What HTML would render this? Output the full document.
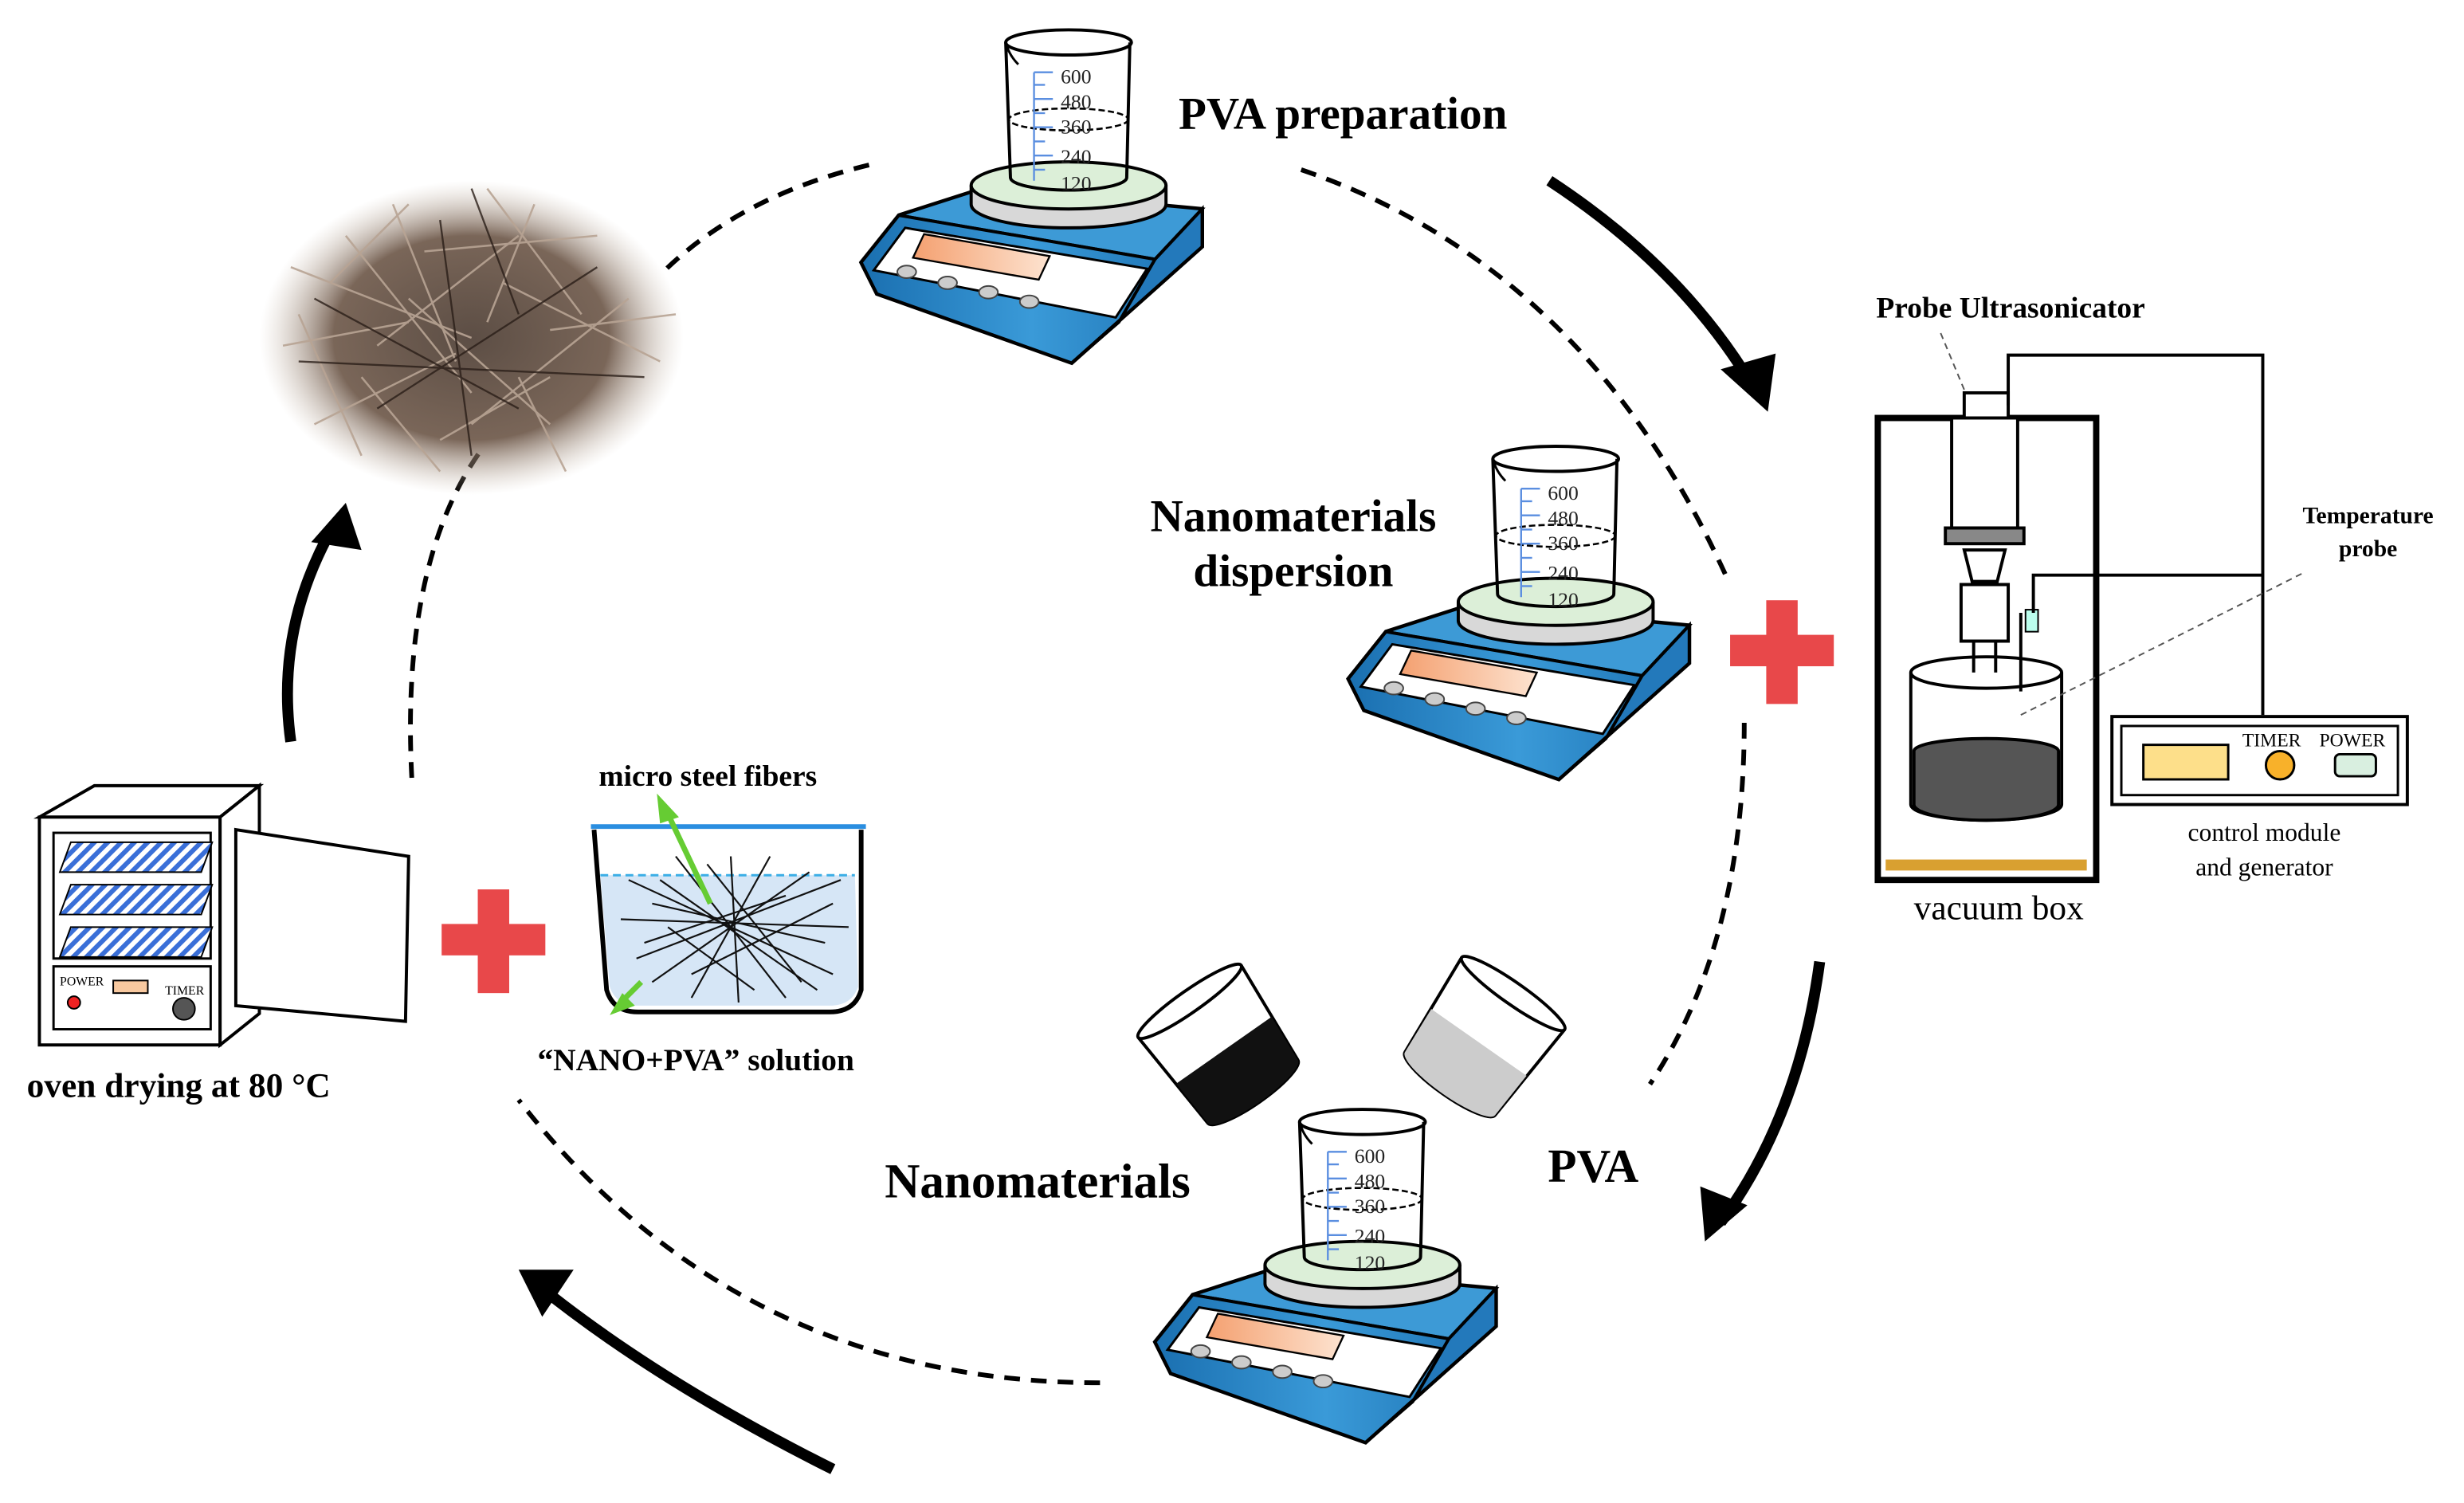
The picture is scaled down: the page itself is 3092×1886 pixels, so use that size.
<!DOCTYPE html>
<html><head><meta charset="utf-8"><style>html,body{margin:0;padding:0;background:#fff}svg{display:block}</style></head><body>
<svg width="3092" height="1886" viewBox="0 0 1568 956.5" xmlns="http://www.w3.org/2000/svg" font-family="Liberation Serif, serif">
<defs>
<linearGradient id="bl" x1="0" y1="0" x2="1" y2="0"><stop offset="0" stop-color="#1a6fb0"/><stop offset=".5" stop-color="#3a9ad8"/><stop offset="1" stop-color="#1a6fb0"/></linearGradient>
<linearGradient id="or" x1="0" y1="0" x2="1" y2="0"><stop offset="0" stop-color="#f4a070"/><stop offset="1" stop-color="#fde3d0"/></linearGradient>
<radialGradient id="fib" cx=".5" cy=".5" r=".5"><stop offset="0" stop-color="#4a3a30"/><stop offset=".65" stop-color="#6b5546"/><stop offset="1" stop-color="#c8b8a8" stop-opacity="0"/></radialGradient>
<pattern id="hatch" width="6" height="6" patternUnits="userSpaceOnUse" patternTransform="rotate(45)"><rect width="6" height="6" fill="#fff"/><rect width="3" height="6" fill="#3a6fd8"/></pattern>
<g id="stir">
 <polygon points="858,432 882,402 935,385 1075,398 1075,422 992,496 868,452" fill="url(#bl)" stroke="#000" stroke-width="2.5"/>
 <polygon points="882,402 935,385 1075,398 1045,430" fill="#3d9ad6" stroke="#000" stroke-width="2"/>
 <polygon points="858,432 882,402 1045,430 1075,398 1075,422 992,496 868,452" fill="url(#bl)" stroke="#000" stroke-width="2"/>
 <polygon points="866,437 886,410 1040,436 1020,467" fill="#fff" stroke="#000" stroke-width="1.5"/>
 <polygon points="898,414 978,428 971,443 891,429" fill="url(#or)" stroke="#000" stroke-width="1.2"/>
 <g fill="#ccc" stroke="#444" stroke-width="1"><ellipse cx="887" cy="438" rx="6" ry="4"/><ellipse cx="913" cy="445" rx="6" ry="4"/><ellipse cx="939" cy="451" rx="6" ry="4"/><ellipse cx="965" cy="457" rx="6" ry="4"/></g>
 <polygon points="1045,430 1075,398 1075,422 992,496 1022,470" fill="#2379bb" stroke="#000" stroke-width="2"/>
 <path d="M928,383 v12 a62,15 0 0 0 124,0 v-12" fill="#d8d8d8" stroke="#000" stroke-width="2"/>
 <ellipse cx="990" cy="383" rx="62" ry="15" fill="#dcefd8" stroke="#000" stroke-width="2"/>
 <path d="M950,292 L953,378 a37,8 0 0 0 74,0 L1029,292" fill="none" stroke="#000" stroke-width="2"/>
 <ellipse cx="990" cy="292" rx="40" ry="8" fill="none" stroke="#000" stroke-width="2"/>
 <path d="M950,292 q2,8 8,14" fill="none" stroke="#000" stroke-width="1.5"/>
 <ellipse cx="990" cy="341" rx="38" ry="7" fill="none" stroke="#000" stroke-width="1.3" stroke-dasharray="4,2"/>
 <g stroke="#5a8ee0" stroke-width="1.2"><line x1="968" y1="311" x2="968" y2="380"/><line x1="968" y1="311" x2="980" y2="311"/><line x1="968" y1="319" x2="975" y2="319"/><line x1="968" y1="328" x2="980" y2="328"/><line x1="968" y1="337" x2="975" y2="337"/><line x1="968" y1="346" x2="980" y2="346"/><line x1="968" y1="355" x2="975" y2="355"/><line x1="968" y1="364" x2="980" y2="364"/><line x1="968" y1="373" x2="975" y2="373"/></g>
 <g font-size="13" fill="#222"><text x="985" y="318">600</text><text x="985" y="334">480</text><text x="985" y="350">360</text><text x="985" y="369">240</text><text x="985" y="386">120</text></g>
</g>
</defs>

<g fill="none" stroke="#000" stroke-width="3" stroke-dasharray="10,7">
<path d="M553,105 Q470,125 420,175"/>
<path d="M828,108 Q1010,170 1100,370"/>
<path d="M1110,460 Q1110,600 1050,690"/>
<path d="M700,880 Q470,880 330,700"/>
<path d="M262,495 Q255,360 305,288"/>
</g>

<g fill="none" stroke="#000" stroke-width="7">
<path d="M986,115 Q1070,170 1115,245"/>
<path d="M1158,612 Q1145,710 1095,778"/>
<path d="M530,935 Q420,880 345,820"/>
<path d="M185,472 Q175,400 212,335"/>
</g>
<g fill="#000">
<polygon points="1125,262 1095,235 1130,225"/>
<polygon points="1085,790 1082,755 1112,767"/>
<polygon points="330,808 365,808 345,838"/>
<polygon points="220,320 198,345 230,350"/>
</g>

<!-- fibers -->
<ellipse cx="300" cy="215" rx="135" ry="100" fill="url(#fib)" opacity=".9"/>
<g stroke="#b8a494" stroke-width="1.3" opacity=".9">
<line x1="185" y1="170" x2="300" y2="215"/><line x1="200" y1="270" x2="290" y2="225"/><line x1="250" y1="130" x2="290" y2="230"/><line x1="180" y1="220" x2="260" y2="205"/><line x1="220" y1="150" x2="300" y2="250"/><line x1="340" y1="130" x2="310" y2="205"/>
<line x1="320" y1="180" x2="420" y2="230"/><line x1="300" y1="270" x2="400" y2="190"/><line x1="230" y1="240" x2="280" y2="300"/><line x1="330" y1="240" x2="360" y2="300"/><line x1="270" y1="160" x2="380" y2="150"/><line x1="190" y1="200" x2="230" y2="290"/>
<line x1="350" y1="210" x2="430" y2="200"/><line x1="260" y1="190" x2="350" y2="270"/><line x1="210" y1="180" x2="260" y2="130"/><line x1="310" y1="120" x2="370" y2="200"/><line x1="240" y1="220" x2="330" y2="150"/><line x1="280" y1="280" x2="350" y2="240"/>
</g>
<g stroke="#2a1e18" stroke-width="1.2" opacity=".8">
<line x1="200" y1="190" x2="330" y2="260"/><line x1="240" y1="260" x2="380" y2="170"/><line x1="280" y1="140" x2="300" y2="290"/><line x1="190" y1="230" x2="410" y2="240"/><line x1="300" y1="120" x2="330" y2="200"/>
</g>

<use href="#stir" transform="translate(-310,-265)"/>
<use href="#stir"/>
<use href="#stir" transform="translate(-123,422)"/>

<g transform="rotate(-35 780 670)"><path d="M740,630 L745,700 a35,8 0 0 0 70,0 L820,630" fill="#fff" stroke="#000" stroke-width="2"/><path d="M743,668 L745,700 a35,8 0 0 0 70,0 L817,668 z" fill="#111"/><ellipse cx="780" cy="630" rx="40" ry="7" fill="none" stroke="#000" stroke-width="2"/></g>
<g transform="rotate(35 940 665)"><path d="M900,625 L905,695 a35,8 0 0 0 70,0 L980,625" fill="#fff" stroke="#000" stroke-width="2"/><path d="M903,663 L905,695 a35,8 0 0 0 70,0 L977,663 z" fill="#ccc"/><ellipse cx="940" cy="625" rx="40" ry="7" fill="none" stroke="#000" stroke-width="2"/></g>

<g fill="#e8484a"><rect x="1101" y="404" width="66" height="20"/><rect x="1124" y="382" width="20" height="66"/><rect x="281" y="588" width="66" height="20"/><rect x="304" y="566" width="20" height="66"/></g>

<rect x="1195" y="266" width="139" height="294" fill="none" stroke="#000" stroke-width="4"/>
<rect x="1200" y="547" width="128" height="7" fill="#d9a030"/>
<rect x="1250" y="250" width="28" height="16" fill="#fff" stroke="#000" stroke-width="2"/>
<rect x="1242" y="266" width="42" height="70" fill="#fff" stroke="#000" stroke-width="2"/>
<rect x="1238" y="336" width="50" height="10" fill="#888" stroke="#000" stroke-width="2"/>
<path d="M1250,350 h26 l-5,20 h-16 z" fill="#fff" stroke="#000" stroke-width="2"/>
<path d="M1248,372 h30 v36 h-30 z" fill="#fff" stroke="#000" stroke-width="2"/>
<rect x="1256" y="408" width="14" height="52" fill="#fff" stroke="#000" stroke-width="2"/>
<path d="M1216,428 v84 a48,10 0 0 0 96,0 v-84" fill="#fff" stroke="#000" stroke-width="2"/>
<path d="M1218,478 v34 a46,10 0 0 0 92,0 v-34 a46,8 0 0 0 -92,0z" fill="#555" stroke="#000" stroke-width="2"/>
<ellipse cx="1264" cy="428" rx="48" ry="10" fill="none" stroke="#000" stroke-width="2"/>
<line x1="1286" y1="390" x2="1286" y2="440" stroke="#000" stroke-width="2"/>
<rect x="1289" y="388" width="8" height="14" fill="#bfe" stroke="#000"/>
<g fill="none" stroke="#000" stroke-width="2"><path d="M1278,258 V226 H1440 V455"/><path d="M1294,390 V366 H1440"/></g>
<rect x="1344" y="456" width="188" height="56" fill="#fff" stroke="#000" stroke-width="2"/>
<rect x="1350" y="462" width="176" height="44" fill="#fff" stroke="#000" stroke-width="1.5"/>
<rect x="1364" y="474" width="54" height="22" fill="#fddf8a" stroke="#000" stroke-width="1.5"/>
<circle cx="1451" cy="487" r="9" fill="#f8b12a" stroke="#000" stroke-width="1.5"/>
<rect x="1486" y="480" width="26" height="14" rx="3" fill="#d9efe0" stroke="#000" stroke-width="1.5"/>
<text x="1427" y="475" font-size="12">TIMER</text><text x="1476" y="475" font-size="12">POWER</text>
<g stroke="#555" stroke-width="1" stroke-dasharray="4,3" fill="none"><path d="M1250,248 L1235,212"/><path d="M1286,455 L1465,365"/></g>
<text x="1194" y="202" font-size="19" font-weight="bold">Probe Ultrasonicator</text>
<text x="1507" y="333" font-size="15" font-weight="bold" text-anchor="middle">Temperature</text>
<text x="1507" y="354" font-size="15" font-weight="bold" text-anchor="middle">probe</text>
<text x="1441" y="535" font-size="16" text-anchor="middle">control module</text>
<text x="1441" y="557" font-size="16" text-anchor="middle">and generator</text>
<text x="1272" y="585" font-size="22" text-anchor="middle">vacuum box</text>

<polygon points="25,520 60,500 165,500 140,520" fill="#fff" stroke="#000" stroke-width="2"/>
<rect x="25" y="520" width="115" height="145" fill="#fff" stroke="#000" stroke-width="2"/>
<polygon points="140,520 165,500 165,645 140,665" fill="#fff" stroke="#000" stroke-width="2"/>
<polygon points="150,528 260,545 258,650 150,640" fill="#fff" stroke="#000" stroke-width="2"/>
<rect x="34" y="530" width="100" height="80" fill="#fff" stroke="#000" stroke-width="1.5"/>
<polygon points="45,536 135,536 128,555 38,555" fill="url(#hatch)" stroke="#000"/>
<polygon points="45,563 135,563 128,582 38,582" fill="url(#hatch)" stroke="#000"/>
<polygon points="45,590 135,590 128,609 38,609" fill="url(#hatch)" stroke="#000"/>
<rect x="34" y="615" width="100" height="40" fill="#fff" stroke="#000" stroke-width="1.5"/>
<text x="38" y="627" font-size="8">POWER</text><text x="105" y="633" font-size="8">TIMER</text>
<circle cx="47" cy="638" r="4" fill="#e22" stroke="#000"/><rect x="72" y="624" width="22" height="8" fill="#f8c9a0" stroke="#000"/><circle cx="117" cy="642" r="7" fill="#555" stroke="#000"/>
<text x="17" y="698" font-size="22" font-weight="bold">oven drying at 80 °C</text>

<path d="M378,528 L386,630 q4,14 20,14 h122 q16,0 20,-14 L548,528" fill="none" stroke="#000" stroke-width="3"/>
<path d="M382,557 L388,628 q4,12 18,12 h122 q14,0 18,-12 L544,557 z" fill="#d6e6f6"/>
<line x1="382" y1="557" x2="544" y2="557" stroke="#3aaee6" stroke-width="1.5" stroke-dasharray="5,3"/>
<line x1="376" y1="526" x2="551" y2="526" stroke="#2a8ee0" stroke-width="3"/>
<g stroke="#111" stroke-width="1.1">
<line x1="400" y1="560" x2="530" y2="620"/><line x1="405" y1="610" x2="535" y2="560"/><line x1="430" y1="545" x2="500" y2="635"/><line x1="490" y1="545" x2="440" y2="635"/><line x1="395" y1="585" x2="540" y2="590"/><line x1="415" y1="575" x2="525" y2="600"/><line x1="415" y1="625" x2="515" y2="555"/><line x1="465" y1="545" x2="470" y2="638"/><line x1="420" y1="560" x2="520" y2="630"/><line x1="450" y1="550" x2="510" y2="625"/>
<line x1="410" y1="600" x2="500" y2="570"/><line x1="440" y1="620" x2="530" y2="575"/><line x1="425" y1="590" x2="480" y2="630"/>
</g>
<g stroke="#6c3" stroke-width="3.5" fill="#6c3"><line x1="452" y1="575" x2="425" y2="518"/><line x1="408" y1="625" x2="395" y2="638"/></g>
<polygon points="418,505 432,520 420,524" fill="#6c3"/><polygon points="388,646 404,640 396,632" fill="#6c3"/>
<text x="381" y="500" font-size="19" font-weight="bold">micro steel fibers</text>
<text x="342" y="681" font-size="20" font-weight="bold">“NANO+PVA” solution</text>

<text x="750" y="82" font-size="29" font-weight="bold">PVA preparation</text>
<text x="823" y="338" font-size="29" font-weight="bold" text-anchor="middle">Nanomaterials</text>
<text x="823" y="373" font-size="29" font-weight="bold" text-anchor="middle">dispersion</text>
<text x="563" y="762" font-size="31" font-weight="bold">Nanomaterials</text>
<text x="985" y="752" font-size="30" font-weight="bold">PVA</text>
</svg>
</body></html>
